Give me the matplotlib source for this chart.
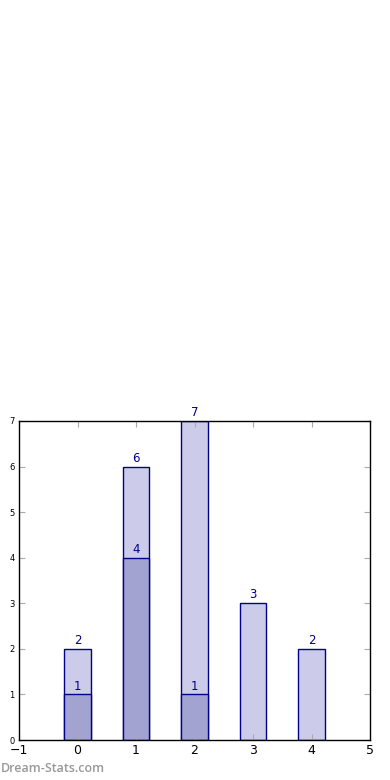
import matplotlib
matplotlib.use("Agg")
import matplotlib.pyplot as plt

positions = [0, 1, 2, 3, 4]
totals = [2, 6, 7, 3, 2]
subset = [1, 4, 1, 0, 0]
xticks = [-1, 0, 1, 2, 3, 4, 5]
yticks = [0, 1, 2, 3, 4, 5, 6, 7]

fig = plt.figure(figsize=(3.9, 7.8), dpi=100)
ax = fig.add_axes([19/390, 40/780, 351/390, 319/780])

light = "#ccccea"
dark = "#a3a3d1"
edge = "#00008b"
w = 0.45

ax.bar(positions, totals, width=w, color=light, edgecolor=edge, linewidth=1)
for p, v in zip(positions, subset):
    if v > 0:
        ax.bar(p, v, width=w, color=dark, edgecolor=edge, linewidth=1)

for p, v in zip(positions, totals):
    ax.text(p, v + 0.04, str(v), ha="center", va="bottom", color=edge, fontsize=8.5)
for p, v in zip(positions, subset):
    if v > 0:
        ax.text(p, v + 0.04, str(v), ha="center", va="bottom", color=edge, fontsize=8.5)

ax.set_xlim(-1, 5)
ax.set_ylim(0, 7)
ax.set_xticks(xticks)
ax.set_yticks(yticks)
ax.set_xticklabels([("\u2212" + str(-t)) if t < 0 else str(t) for t in xticks], fontsize=9)
ax.set_yticklabels([str(t) for t in yticks], fontsize=6)
ax.tick_params(direction="in", length=4, color="#aaaaaa", top=True, right=True, pad=3)
for s in ax.spines.values():
    s.set_linewidth(1)
    s.set_color("black")

fig.text(0.002, 5/780, "Dream-Stats.com", color="#999999", fontsize=9, fontweight="semibold",
         family="Open Sans", ha="left", va="bottom")

fig.savefig("out.png", dpi=100)
